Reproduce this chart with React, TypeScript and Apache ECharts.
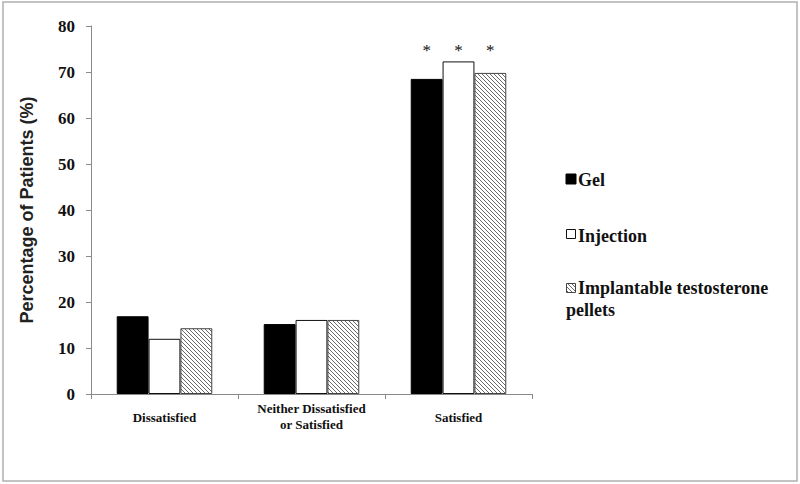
import React, { useEffect, useRef } from "react";
import * as echarts from "echarts";

const categories = ["Dissatisfied", "Neither Dissatisfied\nor Satisfied", "Satisfied"];
const gelValues = [16.9, 15.2, 68.5];
const injectionValues = [12.0, 16.1, 72.3];
const pelletValues = [14.3, 16.1, 69.8];
const seriesNames = ["Gel", "Injection", "Implantable testosterone pellets"];
const yTicks = [0, 10, 20, 30, 40, 50, 60, 70, 80];
const asteriskLevel = 74.7;
const asteriskCategory = 2;

const SERIF = "Liberation Serif";
const SANS = "Liberation Sans";

function makeHatch(): HTMLCanvasElement {
  const c = document.createElement("canvas");
  c.width = 4;
  c.height = 4;
  const ctx = c.getContext("2d")!;
  ctx.fillStyle = "#ffffff";
  ctx.fillRect(0, 0, 4, 4);
  ctx.strokeStyle = "#6a6a6a";
  ctx.lineWidth = 1;
  ctx.beginPath();
  ctx.moveTo(-1, -1);
  ctx.lineTo(5, 5);
  ctx.moveTo(-1, 3);
  ctx.lineTo(1, 5);
  ctx.moveTo(3, -1);
  ctx.lineTo(5, 1);
  ctx.stroke();
  return c;
}

const legendText = (text: string, x: number, y: number) => ({
  type: "text",
  x,
  y,
  style: {
    text,
    fontFamily: SERIF,
    fontWeight: "bold",
    fontSize: 18,
    fill: "#111",
    verticalAlign: "middle",
  },
});

export default function App() {
  const ref = useRef<HTMLDivElement>(null);
  useEffect(() => {
    if (!ref.current) return;
    const chart = echarts.init(ref.current, null, { renderer: "svg" });
    const hatch = makeHatch();
    const hatchFill: any = { image: hatch, repeat: "repeat" };
    const catGapRatio = 0.35;

    const option: any = {
      animation: false,
      backgroundColor: "#ffffff",
      grid: { left: 91, right: 268, top: 26, bottom: 90, containLabel: false },
      xAxis: {
        type: "category",
        data: categories,
        boundaryGap: true,
        axisLine: { lineStyle: { color: "#8a8a8a", width: 1 } },
        axisTick: { show: true, alignWithLabel: false, length: 5, lineStyle: { color: "#8a8a8a" } },
        axisLabel: {
          margin: 6,
          interval: 0,
          color: "#111",
          fontFamily: SERIF,
          fontWeight: "bold",
          fontSize: 13,
          lineHeight: 16,
          formatter: (v: string) => (v.indexOf("\n") >= 0 ? v : "{s|" + v + "}"),
          rich: {
            s: { fontFamily: SERIF, fontWeight: "bold", fontSize: 13, lineHeight: 34, color: "#111" },
          },
        },
      },
      yAxis: {
        type: "value",
        min: yTicks[0],
        max: yTicks[yTicks.length - 1],
        interval: 10,
        name: "Percentage of Patients (%)",
        nameLocation: "middle",
        nameGap: 55,
        nameTextStyle: { fontFamily: SANS, fontWeight: "bold", fontSize: 18, color: "#222" },
        axisLine: { show: true, lineStyle: { color: "#8a8a8a", width: 1 } },
        axisTick: { show: true, length: 5, lineStyle: { color: "#8a8a8a" } },
        splitLine: { show: false },
        axisLabel: {
          margin: 16,
          color: "#111",
          fontFamily: SERIF,
          fontWeight: "bold",
          fontSize: 17,
        },
      },
      series: [
        {
          name: seriesNames[0],
          type: "bar",
          data: gelValues,
          barGap: "0%",
          barCategoryGap: catGapRatio * 100 + "%",
          itemStyle: { color: "#000000", borderColor: "#000000", borderWidth: 1 },
        },
        {
          name: seriesNames[1],
          type: "bar",
          data: injectionValues,
          itemStyle: { color: "#ffffff", borderColor: "#111111", borderWidth: 1 },
        },
        {
          name: seriesNames[2],
          type: "bar",
          data: pelletValues,
          itemStyle: { color: hatchFill, borderColor: "#444444", borderWidth: 1 },
        },
        {
          type: "custom",
          silent: true,
          itemStyle: { color: "#111111" },
          data: [0, 1, 2].map((i) => [asteriskCategory, asteriskLevel, i]),
          encode: { x: 0, y: 1 },
          renderItem: (params: any, api: any) => {
            const pt = api.coord([api.value(0), api.value(1)]);
            const band = api.size([1, 0])[0];
            const bw = (band * (1 - catGapRatio)) / 3;
            const idx = api.value(2);
            return {
              type: "text",
              x: pt[0] + (idx - 1) * bw,
              y: pt[1],
              style: {
                text: "*",
                fontFamily: SERIF,
                fontSize: 17,
                fill: "#111111",
                align: "center",
                verticalAlign: "middle",
              },
            };
          },
        },
      ],
      graphic: [
        {
          type: "rect",
          shape: { x: 3, y: 2, width: 794, height: 479 },
          style: { fill: "none", stroke: "#b0b0b0", lineWidth: 1.5 },
          silent: true,
        },
        { type: "rect", shape: { x: 566, y: 174, width: 10, height: 10 }, style: { fill: "#000", stroke: "#000", lineWidth: 1 } },
        legendText(seriesNames[0], 578, 180),
        { type: "rect", shape: { x: 566.5, y: 229.5, width: 9, height: 9 }, style: { fill: "#fff", stroke: "#111", lineWidth: 1 } },
        legendText(seriesNames[1], 578, 236),
        { type: "rect", shape: { x: 566.5, y: 283.5, width: 9, height: 9 }, style: { fill: hatchFill, stroke: "#444", lineWidth: 1 } },
        legendText("Implantable testosterone", 578, 288),
        legendText("pellets", 566, 310),
      ],
    };
    chart.setOption(option);
    return () => chart.dispose();
  }, []);
  return <div ref={ref} style={{ width: 800, height: 484, position: "absolute", left: 0, top: 0 }} />;
}
